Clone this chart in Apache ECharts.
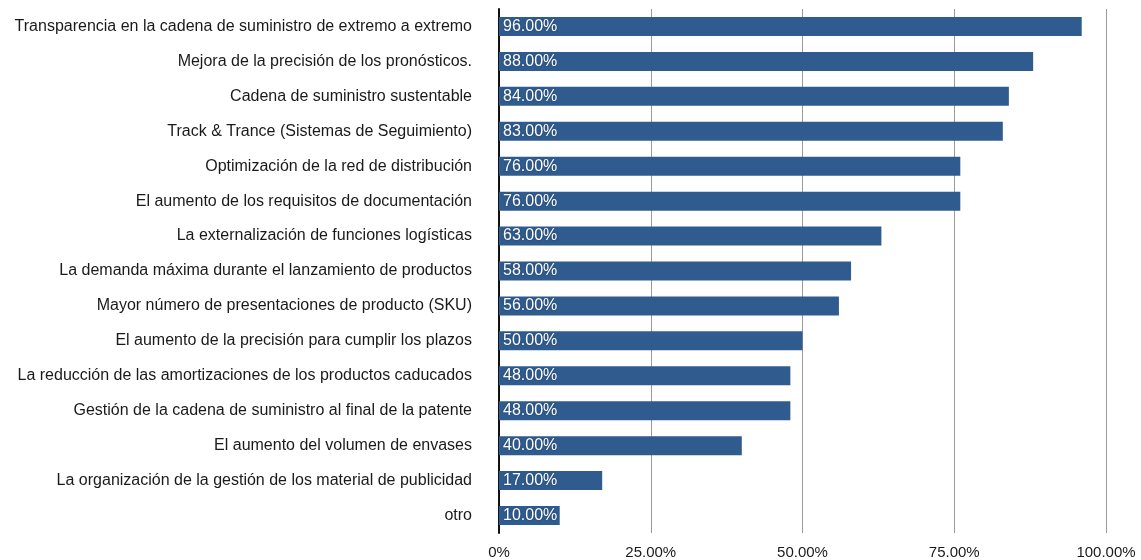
<!DOCTYPE html>
<html>
<head>
<meta charset="utf-8">
<script src="https://cdn.jsdelivr.net/npm/echarts@6/dist/echarts.min.js"></script>
<style>
  html, body { margin: 0; padding: 0; background: #ffffff; }
  #chart { width: 1141px; height: 560px; }
</style>
</head>
<body>
<div id="chart"></div>
<script>
// Categories listed top to bottom
const categories = [
  'Transparencia en la cadena de suministro de extremo a extremo',
  'Mejora de la precisión de los pronósticos.',
  'Cadena de suministro sustentable',
  'Track & Trance (Sistemas de Seguimiento)',
  'Optimización de la red de distribución',
  'El aumento de los requisitos de documentación',
  'La externalización de funciones logísticas',
  'La demanda máxima durante el lanzamiento de productos',
  'Mayor número de presentaciones de producto (SKU)',
  'El aumento de la precisión para cumplir los plazos',
  'La reducción de las amortizaciones de los productos caducados',
  'Gestión de la cadena de suministro al final de la patente',
  'El aumento del volumen de envases',
  'La organización de la gestión de los material de publicidad',
  'otro'
];
// Share of respondents, percent
const values = [96, 88, 84, 83, 76, 76, 63, 58, 56, 50, 48, 48, 40, 17, 10];
const xTicks = [0, 25, 50, 75, 100];

const chart = echarts.init(document.getElementById('chart'));
const font = 'Liberation Sans, Arial, sans-serif';

chart.setOption({
  animation: false,
  grid: { left: 499, right: 35, top: 9, bottom: 27, containLabel: false },
  xAxis: {
    type: 'value',
    min: xTicks[0], max: xTicks[xTicks.length - 1], interval: xTicks[1] - xTicks[0],
    axisLine: { show: false },
    axisTick: { show: false },
    splitLine: { show: true, lineStyle: { color: '#9a9a9a', width: 1 } },
    axisLabel: {
      margin: 12,
      color: '#1a1a1a',
      fontFamily: font,
      fontSize: 15,
      formatter: v => (v === 0 ? '0%' : v.toFixed(2) + '%')
    }
  },
  yAxis: {
    type: 'category',
    data: categories,
    inverse: true,
    axisLine: { show: true, lineStyle: { color: '#111', width: 2 } },
    axisTick: { show: false },
    axisLabel: { margin: 27, color: '#1a1a1a', fontFamily: font, fontSize: 16, padding: [3, 0, 0, 0] }
  },
  series: [{
    type: 'bar',
    data: values,
    barWidth: 19,
    itemStyle: { color: '#2f5b8f' },
    label: {
      show: true,
      position: 'insideLeft',
      distance: 4,
      color: '#ffffff',
      fontFamily: font,
      fontSize: 16,
      textShadowColor: 'rgba(0,0,0,0.35)',
      textShadowBlur: 2,
      formatter: p => p.value.toFixed(2) + '%'
    }
  }]
});
</script>
</body>
</html>
